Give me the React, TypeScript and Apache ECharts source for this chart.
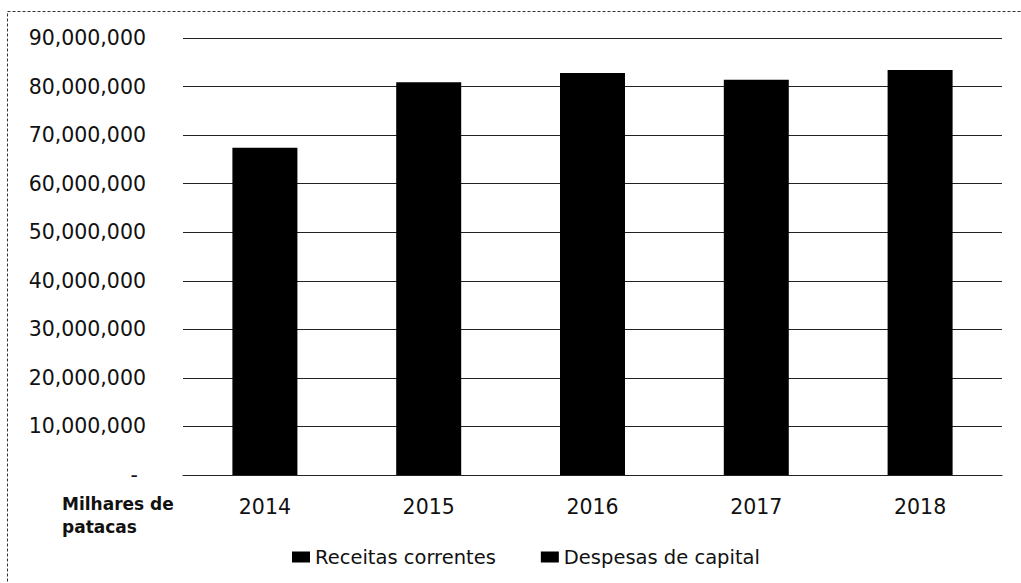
import React, { useEffect, useRef } from "react";
import * as echarts from "echarts";

const categories = ["2014", "2015", "2016", "2017", "2018"];
const receitasCorrentes = [67400000, 80900000, 82800000, 81400000, 83400000];
const despesasCapital: (number | null)[] = [null, null, null, null, null];
const seriesNames = ["Receitas correntes", "Despesas de capital"];
const unitLabel = "Milhares de\npatacas";

export default function App() {
  const ref = useRef<HTMLDivElement>(null);
  useEffect(() => {
    if (!ref.current) return;
    const chart = echarts.init(ref.current, undefined, { renderer: "svg" });
    const font = "DejaVu Sans";
    chart.setOption({
      animation: false,
      backgroundColor: "#ffffff",
      grid: { left: 183, right: 19, top: 38, bottom: 108, containLabel: false },
      legend: {
        data: seriesNames,
        left: 287,
        top: 542,
        itemWidth: 18,
        itemHeight: 11,
        itemGap: 45,
        icon: "rect",
        textStyle: { fontFamily: font, fontSize: 19.5, color: "#111" },
      },
      xAxis: {
        type: "category",
        data: categories,
        axisLine: { show: true, lineStyle: { color: "#222", width: 1 } },
        axisTick: { show: false },
        axisLabel: { fontFamily: font, fontSize: 20.5, color: "#111", margin: 21 },
      },
      yAxis: {
        type: "value",
        min: 0,
        max: 90000000,
        interval: 10000000,
        axisLine: { show: false },
        axisTick: { show: false },
        splitLine: { lineStyle: { color: "#222", width: 1 } },
        axisLabel: {
          fontFamily: font,
          fontSize: 20.5,
          color: "#111",
          margin: 37,
          formatter: (v: number) =>
            v === 0 ? "{z|-}" : v.toLocaleString("en-US"),
          rich: {
            z: { fontFamily: font, fontSize: 20.5, color: "#111", padding: [0, 8, 0, 0] },
          },
        },
      },
      series: [
        {
          name: seriesNames[0],
          type: "bar",
          stack: "total",
          data: receitasCorrentes,
          barWidth: 65,
          itemStyle: { color: "#000000" },
        },
        {
          name: seriesNames[1],
          type: "bar",
          stack: "total",
          data: despesasCapital,
          barWidth: 65,
          itemStyle: { color: "#000000" },
        },
      ],
      graphic: [
        {
          type: "rect",
          shape: { x: 7.5, y: 11.5, width: 1100, height: 700 },
          style: { fill: "none", stroke: "#333", lineWidth: 1, lineDash: [3, 2] },
          silent: true,
        },
        {
          type: "text",
          left: 62,
          top: 492,
          style: {
            text: unitLabel,
            fontFamily: font,
            fontSize: 17,
            fontWeight: "bold",
            fill: "#111",
            lineHeight: 23,
          },
        },
      ],
    });
    return () => chart.dispose();
  }, []);
  return (
    <div
      ref={ref}
      style={{ position: "fixed", left: 0, top: 0, width: 1021, height: 583 }}
    />
  );
}
